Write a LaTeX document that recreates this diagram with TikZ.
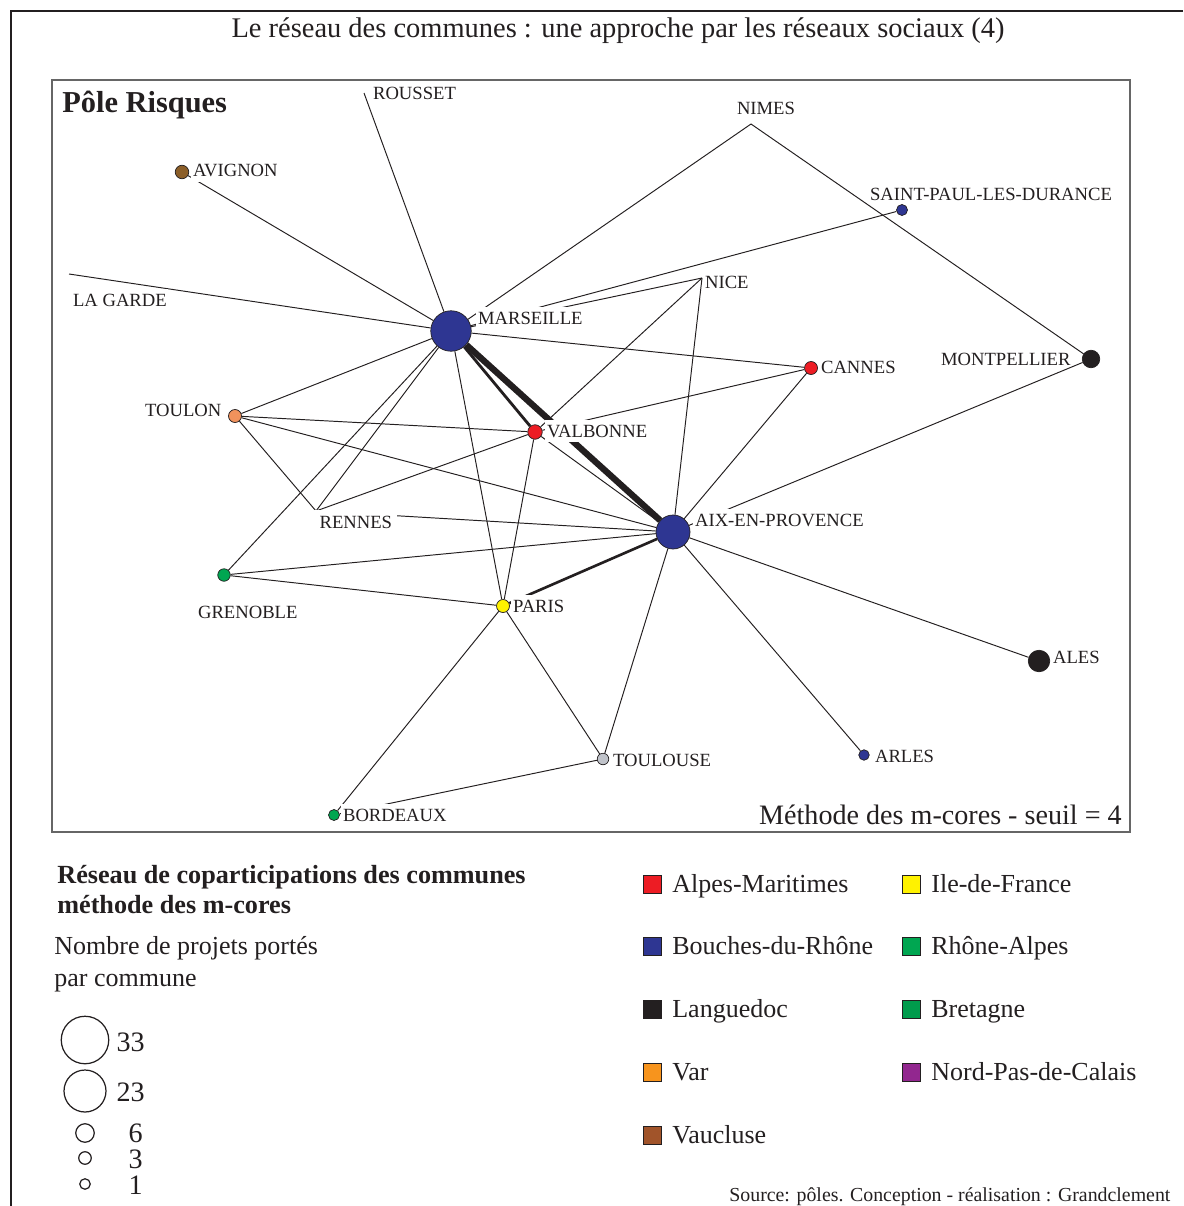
\documentclass[tikz,border=0pt]{standalone}
\usepackage{fontspec}
\setmainfont{Liberation Serif}
\usepackage{xcolor}
\usepackage{tikz}
\usetikzlibrary{backgrounds}

\definecolor{ink}{RGB}{35,31,32}
\definecolor{bdr}{RGB}{46,54,146}
\definecolor{alpm}{RGB}{237,28,36}
\definecolor{idf}{RGB}{255,242,0}
\definecolor{rha}{RGB}{0,166,81}
\definecolor{bret}{RGB}{0,155,76}
\definecolor{lang}{RGB}{35,31,32}
\definecolor{var}{RGB}{247,148,29}
\definecolor{varnode}{RGB}{240,146,92}
\definecolor{npdc}{RGB}{146,39,143}
\definecolor{vaucl}{RGB}{161,84,42}
\definecolor{vauclnode}{RGB}{139,94,40}
\definecolor{autre}{RGB}{192,195,202}

\begin{document}
\begin{tikzpicture}[x=0.02cm, y=-0.02cm,
  ville/.style={circle, draw=ink, line width=0.4pt, inner sep=0pt},
  nom/.style={font=\fontsize{10.6}{12}\selectfont, text=ink, fill=white, inner xsep=1pt, inner ysep=0.5pt,
    text height=0.9em, text depth=0.22em, anchor=base west},
  lien/.style={draw=ink, line width=0.55pt},
  carre/.style={draw=ink, line width=0.5pt, minimum size=0.36cm, inner sep=0pt},
  leg/.style={font=\fontsize{14.8}{17}\selectfont, text=ink, anchor=base west, inner sep=0pt},
  taille/.style={circle, draw=ink, line width=0.7pt, inner sep=0pt},
  chiffre/.style={font=\fontsize{16}{18}\selectfont, text=ink, anchor=base east, inner sep=0pt}]

\useasboundingbox (0,0) rectangle (1183,1206);

% cadres
\draw[ink, line width=1.1pt] (1183,11) -- (11,11) -- (11,1206);
\draw[black!60, line width=0.6pt] (52,80) rectangle (1130,832);

\node[font=\fontsize{16.2}{19}\selectfont, text=ink, anchor=base, inner sep=0pt] (titre) at (618,38) {Le réseau des communes : une approche par les réseaux sociaux (4)};
\node[font=\fontsize{17.3}{20}\selectfont\bfseries, text=ink, anchor=base west, inner sep=0pt] (pole) at (62,113) {Pôle Risques};
\node[font=\fontsize{16}{19}\selectfont, text=ink, anchor=base east, inner sep=0pt] (methode) at (1122,824) {Méthode des m-cores - seuil = 4};

% communes
\node[ville, fill=bdr, minimum size=0.81cm] (mars) at (451,331) {};
\node[ville, fill=bdr, minimum size=0.68cm] (aix) at (673,532) {};
\node[ville, fill=alpm, minimum size=0.29cm] (valb) at (535,432) {};
\node[ville, fill=alpm, minimum size=0.26cm] (cann) at (811,368) {};
\node[ville, fill=varnode, minimum size=0.26cm] (toul) at (235,416) {};
\node[ville, fill=rha, minimum size=0.25cm] (gren) at (224,575) {};
\node[ville, fill=idf, minimum size=0.26cm] (pari) at (503,606) {};
\node[ville, fill=autre, minimum size=0.23cm] (tlse) at (603,759) {};
\node[ville, fill=rha, minimum size=0.22cm] (bord) at (334,815) {};
\node[ville, fill=bdr, minimum size=0.21cm] (arle) at (864,755) {};
\node[ville, fill=lang, minimum size=0.43cm] (ales) at (1039,661) {};
\node[ville, fill=lang, minimum size=0.35cm] (mont) at (1091,359) {};
\node[ville, fill=bdr, minimum size=0.22cm] (spld) at (902,210) {};
\node[ville, fill=vauclnode, minimum size=0.27cm] (avig) at (182,172) {};
\coordinate (nice) at (702,278);
\coordinate (nime) at (751,124);
\coordinate (rous) at (364,93);
\coordinate (lgar) at (69,274);
\coordinate (renn) at (316,511);

% noms
\node[nom] (roustxt) at (371,100) {ROUSSET};
\node[nom] (avigtxt) at (191,177) {AVIGNON};
\node[nom] (lgartxt) at (71,306) {LA GARDE};
\node[nom, anchor=base] (nimetxt) at (766,115) {NIMES};
\node[nom, text depth=0pt] (spldtxt) at (868,200) {SAINT-PAUL-LES-DURANCE};
\node[nom] (nicetxt) at (703,288) {NICE};
\node[nom] (marstxt) at (476,324) {MARSEILLE};
\node[nom] (canntxt) at (819,373) {CANNES};
\node[nom, text depth=0pt] (monttxt) at (939,365) {MONTPELLIER};
\node[nom] (toultxt) at (143,416) {TOULON};
\node[nom] (valbtxt) at (545,437) {VALBONNE};
\node[nom, inner xsep=3pt, inner ysep=1.5pt] (renntxt) at (314,528) {RENNES};
\node[nom] (aixtxt) at (693,526) {AIX-EN-PROVENCE};
\node[nom] (grentxt) at (196,618) {GRENOBLE};
\node[nom] (paritxt) at (511,612) {PARIS};
\node[nom] (alestxt) at (1051,663) {ALES};
\node[nom] (tlsetxt) at (611,766) {TOULOUSE};
\node[nom] (arletxt) at (873,762) {ARLES};
\node[nom] (bordtxt) at (341,821) {BORDEAUX};

% liens
\begin{scope}[on background layer]
\draw[lien] (mars) -- (rous);
\draw[lien] (mars) -- (avig);
\draw[lien] (mars) -- (lgar);
\draw[lien] (mars) -- (nime);
\draw[lien] (mars) -- (spld);
\draw[lien] (mars) -- (nice);
\draw[lien] (mars) -- (cann);
\draw[lien] (mars) -- (toul);
\draw[lien] (mars) -- (gren);
\draw[lien] (mars) -- (renn);
\draw[lien] (mars) -- (pari);
\draw[lien, line width=1.6pt] (mars) -- (valb);
\draw[lien, line width=3.6pt] (mars) -- (aix);
\draw[lien] (valb) -- (toul);
\draw[lien] (valb) -- (renn);
\draw[lien] (valb) -- (nice);
\draw[lien] (valb) -- (cann);
\draw[lien] (valb) -- (pari);
\draw[lien] (valb) -- (aix);
\draw[lien] (aix) -- (nice);
\draw[lien] (aix) -- (cann);
\draw[lien] (aix) -- (mont);
\draw[lien] (aix) -- (ales);
\draw[lien] (aix) -- (arle);
\draw[lien] (aix) -- (tlse);
\draw[lien, line width=1.5pt] (aix) -- (pari);
\draw[lien] (aix) -- (gren);
\draw[lien] (aix) -- (renn);
\draw[lien] (aix) -- (toul);
\draw[lien] (pari) -- (gren);
\draw[lien] (pari) -- (bord);
\draw[lien] (pari) -- (tlse);
\draw[lien] (toul) -- (renn);
\draw[lien] (tlse) -- (bord);
\draw[lien] (nime) -- (mont);
\end{scope}

% legende tailles
\node[font=\fontsize{14.9}{17}\selectfont\bfseries, text=ink, anchor=base west, inner sep=0pt] (legtit1) at (57,883) {Réseau de coparticipations des communes};
\node[font=\fontsize{14.9}{17}\selectfont\bfseries, text=ink, anchor=base west, inner sep=0pt] (legtit2) at (57,913) {méthode des m-cores};
\node[leg] (nombre1) at (54,954) {Nombre de projets portés};
\node[leg] (nombre2) at (54,986) {par commune};
\node[taille, minimum size=0.95cm] (c33) at (85,1040) {};
\node[chiffre] (n33) at (145,1051) {33};
\node[taille, minimum size=0.84cm] (c23) at (85,1091) {};
\node[chiffre] (n23) at (145,1101) {23};
\node[taille, minimum size=0.37cm] (c6) at (85,1133) {};
\node[chiffre] (n6) at (143,1142) {6};
\node[taille, minimum size=0.25cm] (c3) at (85,1158) {};
\node[chiffre] (n3) at (143,1168) {3};
\node[taille, minimum size=0.21cm] (c1) at (85,1184) {};
\node[chiffre] (n1) at (143,1194) {1};

% legende departements
\node[carre, fill=alpm] (sqalpm) at (652,884) {};
\node[leg] (txalpm) at (672,892) {Alpes-Maritimes};
\node[carre, fill=bdr] (sqbdr) at (652,946) {};
\node[leg] (txbdr) at (672,954) {Bouches-du-Rhône};
\node[carre, fill=lang] (sqlang) at (652,1009) {};
\node[leg] (txlang) at (672,1017) {Languedoc};
\node[carre, fill=var] (sqvar) at (652,1072) {};
\node[leg] (txvar) at (672,1080) {Var};
\node[carre, fill=vaucl] (sqvaucl) at (652,1135) {};
\node[leg] (txvaucl) at (672,1143) {Vaucluse};
\node[carre, fill=idf] (sqidf) at (911,884) {};
\node[leg] (txidf) at (931,892) {Ile-de-France};
\node[carre, fill=rha] (sqrha) at (911,946) {};
\node[leg] (txrha) at (931,954) {Rhône-Alpes};
\node[carre, fill=bret] (sqbret) at (911,1009) {};
\node[leg] (txbret) at (931,1017) {Bretagne};
\node[carre, fill=npdc] (sqnpdc) at (911,1072) {};
\node[leg] (txnpdc) at (931,1080) {Nord-Pas-de-Calais};

\node[font=\fontsize{11.3}{13}\selectfont, text=ink, anchor=base west, inner sep=0pt] (source) at (729,1201) {Source: pôles. Conception - réalisation : Grandclement};

\end{tikzpicture}
\end{document}
